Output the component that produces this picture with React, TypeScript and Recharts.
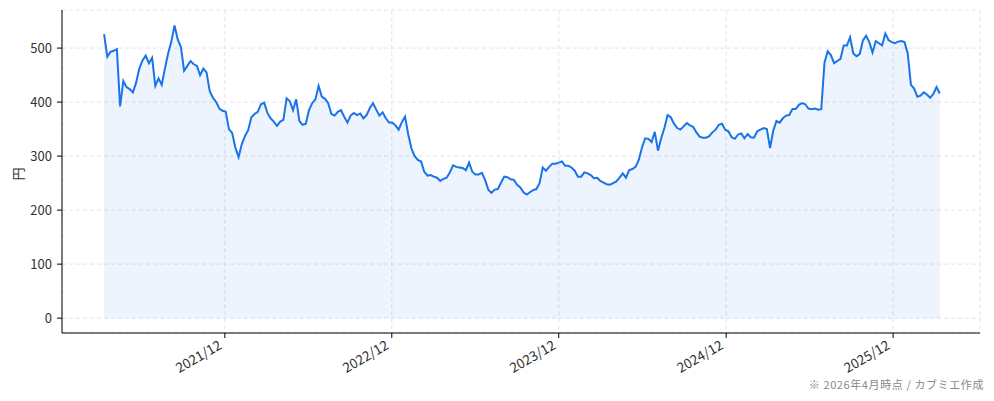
import { ComposedChart, Area, Line, XAxis, YAxis, CartesianGrid } from 'recharts';

// weekly closes, first week starting 2021-03-12
const firstWeek = '2021-03-12';

const prices2021 = [
  526, 484, 493, 495, 498, 392, 439, 428, 424, 418, 436, 462, 477, 486, 472, 482, 430, 444, 432, 462,
  490, 512, 542, 516, 502, 458, 467, 476, 470, 467, 450, 462, 455, 420, 408, 400, 388, 384, 382, 350,
  343, 316, 298,
];
const prices2022 = [
  322, 337, 348, 372, 378, 382, 396, 399, 380, 370, 364, 356, 364, 367, 407, 402, 385, 405, 365, 358,
  360, 385, 398, 405, 430, 410, 406, 398, 378, 375, 382, 385, 373, 362, 375, 380, 376, 379, 370, 376,
  389, 398, 386, 375, 381, 370, 362, 362, 357, 349, 363, 373,
];
const prices2023 = [
  340, 314, 300, 293, 290, 271, 264, 265, 262, 260, 254, 258, 260, 270, 283, 280, 279, 278, 274, 288,
  271, 266, 266, 269, 256, 238, 232, 238, 239, 251, 262, 261, 257, 256, 247, 242, 233, 229, 233, 237,
  239, 250, 279, 273, 280, 286, 286, 288, 290, 282, 282, 279,
];
const prices2024 = [
  273, 262, 262, 270, 268, 265, 259, 260, 254, 251, 248, 247, 250, 253, 260, 268, 260, 274, 276, 280,
  293, 316, 333, 332, 326, 345, 310, 333, 352, 376, 372, 360, 352, 349, 355, 361, 357, 354, 344, 336,
  334, 334, 337, 344, 349, 358, 360, 349, 346, 335, 332, 340,
];
const prices2025 = [
  342, 333, 341, 335, 334, 346, 349, 352, 350, 315, 347, 365, 362, 370, 375, 376, 387, 387, 395, 398,
  396, 388, 387, 388, 386, 387, 473, 494, 487, 472, 476, 480, 505, 505, 520, 490, 485, 489, 514, 523,
  511, 492, 513, 509, 505, 527, 515, 511, 509, 512, 513, 511,
];
const prices2026 = [490, 432, 425, 410, 412, 418, 414, 408, 415, 428, 416];

const tickDates = ['2021-12-01', '2022-12-01', '2023-12-01', '2024-12-01', '2025-12-01'];
const tickLabels = ['2021/12', '2022/12', '2023/12', '2024/12', '2025/12'];
const yTicks = [0, 100, 200, 300, 400, 500];

const DAY = 86400000;
const toTime = (s: string) => new Date(s + 'T00:00:00Z').getTime();

const closes = [...prices2021, ...prices2022, ...prices2023, ...prices2024, ...prices2025, ...prices2026];
const data = closes.map((price, i) => ({ t: toTime(firstWeek) + i * 7 * DAY, price }));
const xTicks = tickDates.map(toTime);

const FONT = '"Noto Sans CJK JP", "Noto Sans", sans-serif';
const BLUE = '#1a73e8';

function DateTick(props: any) {
  const { x, y, payload } = props;
  const label = tickLabels[xTicks.indexOf(payload.value)];
  const px = x - 2;
  const py = y + 8;
  return (
    <text x={px} y={py} transform={`rotate(-30 ${px} ${py})`} textAnchor="end" fontSize={13.5} fill="#333" fontFamily={FONT}>
      {label}
    </text>
  );
}

export default function App() {
  return (
    <div style={{ position: 'absolute', left: 0, top: 0, width: 994, height: 401, background: '#fff' }}>
      <ComposedChart width={994} height={401} data={data} margin={{ top: 10, right: 14, bottom: 8, left: 12 }}>
        <CartesianGrid stroke="#e2e2ea" strokeDasharray="4 3" />
        <XAxis
          dataKey="t"
          type="number"
          scale="time"
          domain={[toTime('2020-12-10'), toTime('2026-06-09')]}
          ticks={xTicks}
          tick={<DateTick />}
          tickSize={5}
          tickMargin={2}
          height={60}
          stroke="#000"
          allowDataOverflow
        />
        <YAxis
          type="number"
          domain={[-27.5, 570.5]}
          ticks={yTicks}
          width={50}
          tickSize={5}
          tickMargin={5}
          stroke="#000"
          tick={{ fontSize: 13, fill: '#333', fontFamily: FONT }}
          allowDataOverflow
        />
        <Area
          dataKey="price"
          type="linear"
          baseValue={0}
          stroke="none"
          fill={BLUE}
          fillOpacity={0.08}
          isAnimationActive={false}
        />
        <Line dataKey="price" type="linear" stroke={BLUE} strokeWidth={2} dot={false} isAnimationActive={false} />
      </ComposedChart>
      <svg width={994} height={401} style={{ position: 'absolute', left: 0, top: 0, pointerEvents: 'none' }}>
        <text x={17} y={174} transform="rotate(-90 17 174)" textAnchor="middle" dominantBaseline="central" fontSize={13} fill="#333" fontFamily={FONT}>
          円
        </text>
        <text x={984} y={389} textAnchor="end" fontSize={11} letterSpacing={0.6} fill="#888" fontFamily={FONT}>
          ※ 2026年4月時点 / カブミエ作成
        </text>
      </svg>
    </div>
  );
}
